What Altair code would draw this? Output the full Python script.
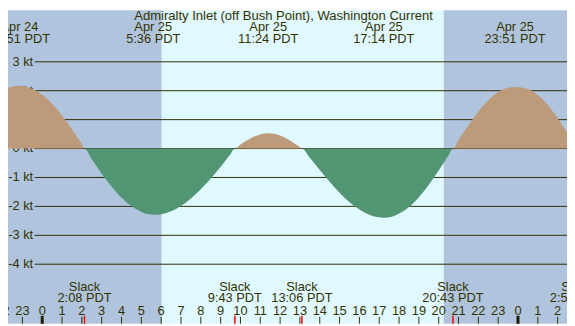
import altair as alt
import pandas as pd

# ---------------- data ----------------
hours = [-2.5, -2.0, -1.5, -1.15, -1.0, -0.5, 0.0, 0.5, 1.0, 1.5, 2.0, 2.133,
         2.5, 3.0, 3.5, 4.0, 4.5, 5.0, 5.5, 5.65, 6.0, 6.5, 7.0, 7.5, 8.0,
         8.5, 9.0, 9.5, 9.717, 10.0, 10.5, 11.0, 11.4, 12.0, 12.5, 13.0, 13.1,
         13.5, 14.0, 14.5, 15.0, 15.5, 16.0, 16.5, 17.0, 17.25, 17.5, 18.0,
         18.5, 19.0, 19.5, 20.0, 20.5, 20.717, 21.0, 21.5, 22.0, 22.5, 23.0,
         23.5, 23.9, 24.5, 25.0, 25.5, 26.0, 26.5, 26.97]
knots = [1.82, 2.03, 2.14, 2.17, 2.16, 2.07, 1.86, 1.55, 1.14, 0.66, 0.15, 0.0,
         -0.37, -0.87, -1.31, -1.70, -1.99, -2.19, -2.28, -2.29, -2.27, -2.17, -1.99, -1.73, -1.41,
         -1.04, -0.63, -0.19, 0.0, 0.14, 0.35, 0.49, 0.53, 0.45, 0.28, 0.05, 0.0,
         -0.32, -0.74, -1.15, -1.53, -1.86, -2.11, -2.29, -2.38, -2.39, -2.38, -2.25,
         -2.02, -1.68, -1.25, -0.76, -0.23, 0.0, 0.30, 0.80, 1.28, 1.67, 1.96,
         2.10, 2.13, 2.06, 1.85, 1.51, 1.05, 0.53, 0.0]

slack_hours = [2.133, 9.717, 13.1, 20.717, 26.97]
slack_times = ["2:08 PDT", "9:43 PDT", "13:06 PDT", "20:43 PDT", "2:58 PDT"]

peak_hours = [-1.15, 5.6, 11.4, 17.233, 23.85]
peak_dates = ["Apr 24", "Apr 25", "Apr 25", "Apr 25", "Apr 25"]
peak_times = ["22:51 PDT", "5:36 PDT", "11:24 PDT", "17:14 PDT", "23:51 PDT"]

bg_start = [-3.0, 6.03, 20.256]
bg_end = [6.03, 20.256, 26.6]
bg_kind = ["night", "day", "night"]

kt_levels = [3, 2, 1, 0, -1, -2, -3, -4]
kt_labels = ["3 kt", "2 kt", "1 kt", "0 kt", "-1 kt", "-2 kt", "-3 kt", "-4 kt"]

tick_hours = [-2, -1, 0, 1, 2, 3, 4, 5, 6, 7, 8, 9, 10, 11, 12, 13, 14, 15,
              16, 17, 18, 19, 20, 21, 22, 23, 24, 25, 26, 27]
tick_labels = ["22", "23", "0", "1", "2", "3", "4", "5", "6", "7", "8", "9",
               "10", "11", "12", "13", "14", "15", "16", "17", "18", "19",
               "20", "21", "22", "23", "0", "1", "2", "3"]
midnight_hours = [0, 24]

title = "Admiralty Inlet (off Bush Point), Washington Current"

# ---------------- styling ----------------
W, H = 567, 318
FONT = "Liberation Sans"
TXT = "#333300"
FS = 13
xs = alt.Scale(domain=[-1.7257, 26.472], nice=False, zero=False)
ys = alt.Scale(domain=[-6.059, 4.783], nice=False, zero=False)

curve = pd.DataFrame({"h": hours, "v": knots})
slack = pd.DataFrame({"h": slack_hours, "t": slack_times})
peaks = pd.DataFrame({"h": peak_hours, "d": peak_dates, "t": peak_times})
bg = pd.DataFrame({"h": bg_start, "h2": bg_end, "k": bg_kind})
kt = pd.DataFrame({"v": kt_levels, "lab": kt_labels})
ticks = pd.DataFrame({"h": tick_hours, "lab": tick_labels})
ticks_reg = ticks[~ticks["h"].isin(midnight_hours)]
mid = pd.DataFrame({"h": midnight_hours})
ttl = pd.DataFrame({"t": [title]})

X = alt.X("h:Q", scale=xs, axis=None)

background = alt.Chart(bg).mark_rect().encode(
    x=X, x2="h2:Q",
    y=alt.value(0), y2=alt.value(H),
    color=alt.Color("k:N", scale=alt.Scale(domain=["night", "day"],
                                           range=["#B0C4DE", "#E0F8FF"]), legend=None),
)

grid = alt.Chart(kt).mark_rule(color="#2e2e00", strokeWidth=1).encode(
    x=alt.value(27), x2=alt.value(W),
    y=alt.Y("v:Q", scale=ys, axis=None),
)

ylabels = alt.Chart(kt).mark_text(align="right", baseline="middle", font=FONT,
                                  fontSize=FS, color=TXT).encode(
    x=alt.value(25.5), y=alt.Y("v:Q", scale=ys, axis=None), text="lab:N",
)

flood = alt.Chart(curve).transform_calculate(p="max(datum.v, 0)").mark_area(
    color="#BD9A7A", interpolate="monotone", clip=True).encode(
    x=X, y=alt.Y("p:Q", scale=ys, axis=None), y2=alt.datum(0),
)
ebb = alt.Chart(curve).transform_calculate(n="min(datum.v, 0)").mark_area(
    color="#519573", interpolate="monotone", clip=True).encode(
    x=X, y=alt.Y("n:Q", scale=ys, axis=None), y2=alt.datum(0),
)

hour_ticks = alt.Chart(ticks_reg).mark_rule(color="#2e2e00", strokeWidth=1).encode(
    x=X, y=alt.value(311), y2=alt.value(H),
)
mid_ticks = alt.Chart(mid).mark_rule(color="#1a1a00", strokeWidth=3).encode(
    x=X, y=alt.value(310), y2=alt.value(H),
)
slack_ticks = alt.Chart(slack).mark_rule(color="#ff0000", strokeWidth=1.5).encode(
    x=X, y=alt.value(310), y2=alt.value(H),
)
hour_labels = alt.Chart(ticks).mark_text(align="center", baseline="alphabetic",
                                         font=FONT, fontSize=FS, color=TXT).encode(
    x=X, y=alt.value(309), text="lab:N",
)

slack_word = alt.Chart(slack).mark_text(align="center", baseline="alphabetic",
                                        font=FONT, fontSize=FS, color=TXT, text="Slack").encode(
    x=X, y=alt.value(284.3),
)
slack_time = alt.Chart(slack).mark_text(align="center", baseline="alphabetic",
                                        font=FONT, fontSize=FS, color=TXT).encode(
    x=X, y=alt.value(295.5), text="t:N",
)

peak_date = alt.Chart(peaks).mark_text(align="center", baseline="alphabetic",
                                       font=FONT, fontSize=FS, color=TXT).encode(
    x=X, y=alt.value(21.5), text="d:N",
)
peak_time = alt.Chart(peaks).mark_text(align="center", baseline="alphabetic",
                                       font=FONT, fontSize=FS, color=TXT).encode(
    x=X, y=alt.value(33.5), text="t:N",
)

title_txt = alt.Chart(ttl).mark_text(align="center", baseline="alphabetic",
                                     font=FONT, fontSize=13.25, color=TXT).encode(
    x=alt.value(279.5), y=alt.value(9.8), text="t:N",
)

chart = alt.layer(
    background, grid, ylabels, flood, ebb,
    hour_ticks, mid_ticks, slack_ticks, hour_labels,
    slack_word, slack_time, peak_date, peak_time, title_txt,
).properties(
    width=W, height=H, padding=0, autosize=alt.AutoSizeParams(type="none"),
).configure_view(strokeWidth=0)

chart.save("out.html", embed_options={"renderer": "svg", "actions": False})
